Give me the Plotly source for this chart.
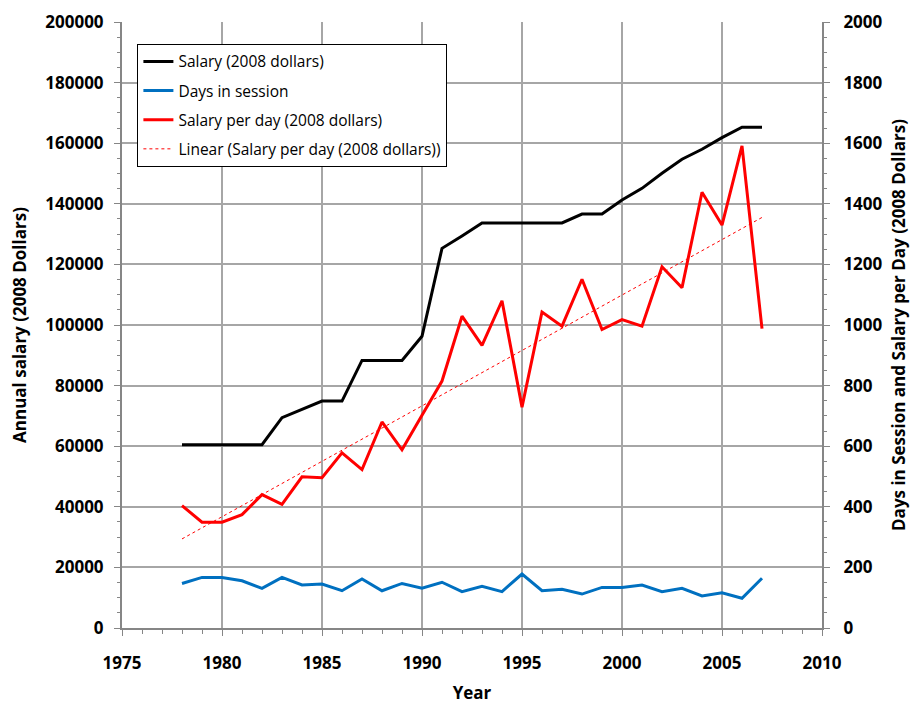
import plotly.graph_objects as go

years = list(range(1978, 2008))
salary = [60500, 60500, 60500, 60500, 60500, 69400, 72200, 74900, 74900, 88300,
          88300, 88300, 96300, 125300, 129400, 133700, 133700, 133700, 133700, 133700,
          136600, 136600, 141250, 145100, 150100, 154700, 158000, 161850, 165300, 165300]
days = [147, 167, 167, 156, 131, 167, 142, 145, 123, 162,
        123, 147, 131, 151, 120, 138, 120, 178, 123, 128,
        112, 134, 134, 142, 120, 131, 106, 116, 98, 164]
per_day = [404, 349, 349, 374, 440, 408, 499, 496, 578, 523,
           680, 588, 702, 815, 1029, 933, 1080, 729, 1043, 996,
           1151, 985, 1018, 996, 1192, 1123, 1438, 1330, 1591, 988]
trend_years = [1978, 2007]
trend_values = [294, 1355]

FONT = "Open Sans"
fig = go.Figure()
fig.add_trace(go.Scatter(x=years, y=salary, mode="lines", name="Salary (2008 dollars)",
                         line=dict(color="#000000", width=3), legendgroup="a"))
fig.add_trace(go.Scatter(x=years, y=days, mode="lines", name="Days in session",
                         line=dict(color="#0070C0", width=3), yaxis="y2", legendgroup="b"))
fig.add_trace(go.Scatter(x=years, y=per_day, mode="lines", name="Salary per day (2008 dollars)",
                         line=dict(color="#FF0000", width=3), yaxis="y2", legendgroup="c"))
fig.add_trace(go.Scatter(x=trend_years, y=trend_values, mode="lines",
                         name="Linear (Salary per day (2008 dollars))",
                         line=dict(color="#FF0000", width=1, dash="3px,3px"), yaxis="y2", legendgroup="d"))

axis_common = dict(
    showline=True, linecolor="#868686", linewidth=2,
    ticks="outside", ticklen=6, tickcolor="#868686", tickwidth=1,
    tickfont=dict(family=FONT, size=17, color="#000000", weight="bold"),
    zeroline=False, automargin=False,
)
title_font = dict(family=FONT, size=17, weight="bold", color="#000000")

fig.update_layout(
    width=919, height=706,
    margin=dict(l=122, r=97, t=22, b=78),
    paper_bgcolor="white", plot_bgcolor="white",
    font=dict(family=FONT, color="#000000"),
    showlegend=True,
    legend=dict(x=0.022, y=0.964, xanchor="left", yanchor="top",
                bgcolor="white", bordercolor="#000000", borderwidth=1,
                font=dict(family=FONT, size=15.5, color="#000000"),
                tracegroupgap=6, traceorder="grouped"),
    xaxis=dict(range=[1975, 2010], dtick=5, tick0=1975, showgrid=True,
               gridcolor="#A6A6A6", gridwidth=1.5,
               minor=dict(dtick=1, ticks="outside", ticklen=4, tickcolor="#868686", showgrid=False),
               title=dict(text="Year", font=title_font, standoff=14),
               ticklabelstandoff=13,
               **axis_common),
    yaxis=dict(range=[0, 200000], dtick=20000, tickformat="d", showgrid=True,
               gridcolor="#A6A6A6", gridwidth=1.5,
               minor=dict(dtick=5000, ticks="outside", ticklen=3, tickcolor="#868686", showgrid=False),
               title=dict(text="Annual salary (2008 Dollars)", font=title_font, standoff=14),
               ticklabelstandoff=7,
               **axis_common),
    yaxis2=dict(range=[0, 2000], dtick=200, tickformat="d", overlaying="y", side="right",
                showgrid=False,
                minor=dict(dtick=50, ticks="outside", ticklen=3, tickcolor="#868686", showgrid=False),
                title=dict(text="Days in Session and Salary per Day (2008 Dollars)", font=title_font, standoff=12),
                ticklabelstandoff=10,
                **axis_common),
)

fig.write_html("out.html", config={"displayModeBar": False},
               post_script="document.body.style.margin='0';document.body.style.overflow='hidden';")
